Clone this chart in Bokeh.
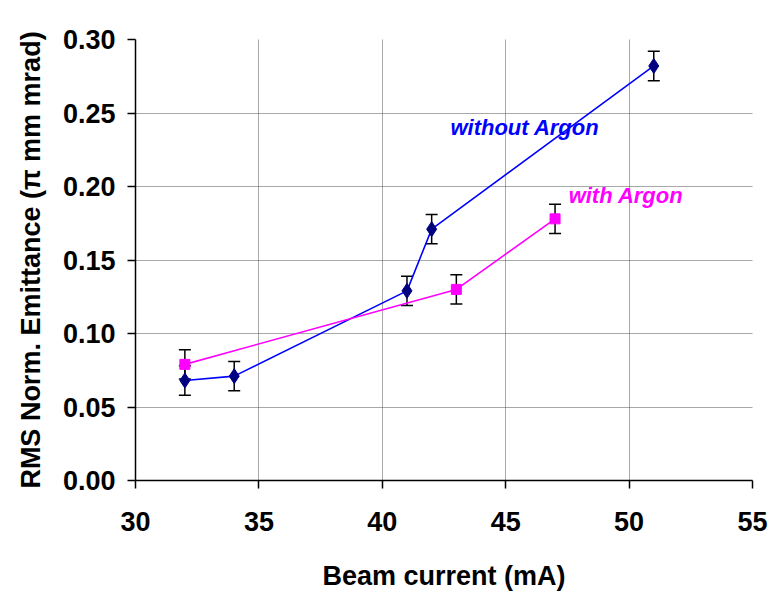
from bokeh.plotting import figure
from bokeh.models import Range1d, Whisker, ColumnDataSource, Label, FixedTicker, TeeHead, NumeralTickFormatter
from bokeh.embed import file_html
from bokeh.resources import INLINE

# data
current_no_ar = [32, 34, 41, 42, 51]
emit_no_ar = [0.068, 0.071, 0.129, 0.171, 0.282]
current_ar = [32, 43, 47]
emit_ar = [0.079, 0.130, 0.178]
err = 0.010
x_ticks = [30, 35, 40, 45, 50, 55]
y_ticks = [0.00, 0.05, 0.10, 0.15, 0.20, 0.25, 0.30]

FONT = "Liberation Sans"

p = figure(width=769, height=593, output_backend="svg", toolbar_location=None,
           x_range=Range1d(30, 55), y_range=Range1d(0, 0.30),
           min_border_left=135, min_border_right=17, min_border_top=39, min_border_bottom=113)
p.outline_line_color = None
p.background_fill_color = "white"
p.border_fill_color = "white"

for ax in (p.xaxis[0], p.yaxis[0]):
    ax.axis_line_color = "black"
    ax.axis_line_width = 1.5
    ax.major_tick_out = 8
    ax.major_tick_in = 0
    ax.major_tick_line_color = "black"
    ax.major_tick_line_width = 1.5
    ax.minor_tick_line_color = None
    ax.major_label_text_font = FONT
    ax.major_label_text_font_style = "bold"
    ax.major_label_text_font_size = "27px"
    ax.major_label_text_color = "black"
    ax.axis_label_text_font = FONT
    ax.axis_label_text_font_style = "bold"
    ax.axis_label_text_font_size = "27px"
    ax.axis_label_text_color = "black"

p.xaxis.ticker = FixedTicker(ticks=x_ticks)
p.yaxis.ticker = FixedTicker(ticks=y_ticks)
p.yaxis.formatter = NumeralTickFormatter(format="0.00")
p.xaxis.major_label_standoff = 23
p.yaxis.major_label_standoff = 12
p.xaxis.axis_label = "Beam current (mA)"
p.yaxis.axis_label = "RMS Norm. Emittance (π mm mrad)"
p.xaxis.axis_label_standoff = 27
p.yaxis.axis_label_standoff = 14

for g in (p.xgrid[0], p.ygrid[0]):
    g.grid_line_color = "#505050"
    g.grid_line_dash = "1 1"
    g.grid_line_width = 1
p.xgrid.ticker = FixedTicker(ticks=x_ticks)
p.ygrid.ticker = FixedTicker(ticks=y_ticks)

src1 = ColumnDataSource(dict(x=current_no_ar, y=emit_no_ar,
                             lo=[v - err for v in emit_no_ar], hi=[v + err for v in emit_no_ar]))
src2 = ColumnDataSource(dict(x=current_ar, y=emit_ar,
                             lo=[v - err for v in emit_ar], hi=[v + err for v in emit_ar]))

for src in (src1, src2):
    w = Whisker(source=src, base="x", lower="lo", upper="hi", line_color="black", line_width=1.5,
                upper_head=TeeHead(size=12, line_color="black", line_width=1.5),
                lower_head=TeeHead(size=12, line_color="black", line_width=1.5))
    p.add_layout(w)

p.line("x", "y", source=src1, line_color="#0000FF", line_width=1.6)
p.line("x", "y", source=src2, line_color="#FF00FF", line_width=1.6)
p.scatter("x", "y", source=src1, marker="diamond", size=15, fill_color="#000080", line_color="#000080")
p.scatter("x", "y", source=src2, marker="square", size=10, fill_color="#FF00FF", line_color="#FF00FF")

p.add_layout(Label(x=42.76, y=0.240, text="without Argon", text_color="#0000FF",
                   text_font=FONT, text_font_style="bold italic", text_font_size="22px",
                   text_baseline="middle"))
p.add_layout(Label(x=47.55, y=0.194, text="with Argon", text_color="#FF00FF",
                   text_font=FONT, text_font_style="bold italic", text_font_size="22px",
                   text_baseline="middle"))

open("out.html", "w").write(file_html(p, INLINE))
